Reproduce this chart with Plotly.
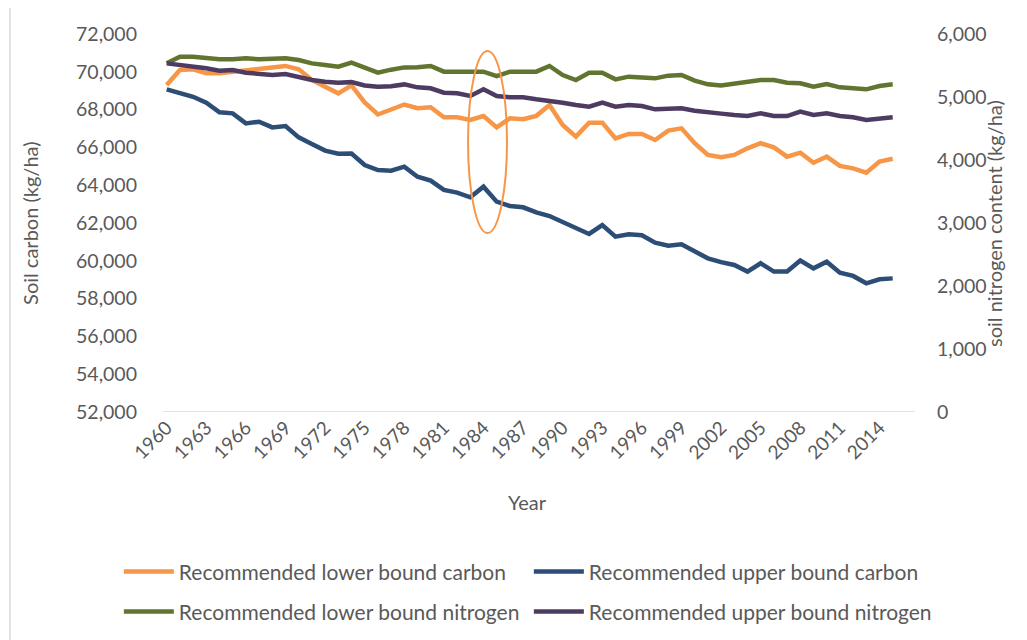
import plotly.graph_objects as go

years = list(range(1960, 2016))

lower_carbon = [69300, 70100, 70130, 69920, 69920, 70010, 70100, 70130, 70240, 70310,
                70130, 69570, 69210, 68860, 69280, 68380, 67740, 67980, 68270, 68070,
                68120, 67590, 67590, 67450, 67660, 67060, 67540, 67490, 67670, 68240,
                67190, 66570, 67310, 67310, 66480, 66710, 66710, 66390, 66890, 67010,
                66220, 65600, 65480, 65600, 65950, 66220, 66000, 65510, 65720, 65190,
                65510, 65020, 64890, 64660, 65250, 65400]

upper_carbon = [69070, 68900, 68680, 68370, 67860, 67800, 67270, 67360, 67060, 67130,
                66530, 66180, 65830, 65670, 65680, 65070, 64800, 64770, 64980, 64450,
                64240, 63750, 63610, 63360, 63920, 63130, 62900, 62830, 62560, 62370,
                62070, 61720, 61420, 61890, 61280, 61400, 61350, 60960, 60800, 60870,
                60480, 60130, 59930, 59780, 59430, 59870, 59430, 59430, 60010, 59600,
                59950, 59370, 59200, 58810, 59020, 59070]

lower_nitrogen = [5534, 5640, 5640, 5614, 5598, 5598, 5614, 5598, 5614, 5614,
                  5587, 5534, 5508, 5481, 5545, 5470, 5386, 5434, 5470, 5471,
                  5492, 5402, 5402, 5402, 5402, 5333, 5402, 5402, 5402, 5492,
                  5349, 5270, 5386, 5386, 5280, 5323, 5312, 5296, 5339, 5349,
                  5259, 5201, 5183, 5217, 5243, 5270, 5270, 5228, 5217, 5164,
                  5206, 5153, 5138, 5122, 5175, 5201]

upper_nitrogen = [5534, 5508, 5492, 5455, 5418, 5429, 5386, 5376, 5349, 5365,
                  5312, 5270, 5243, 5228, 5236, 5183, 5164, 5170, 5200, 5153,
                  5138, 5069, 5058, 5016, 5122, 5016, 4995, 4995, 4963, 4942,
                  4910, 4873, 4847, 4910, 4847, 4873, 4857, 4804, 4804, 4820,
                  4783, 4751, 4736, 4714, 4698, 4741, 4698, 4698, 4767, 4714,
                  4741, 4698, 4677, 4635, 4661, 4677]

tick_years = list(range(1960, 2015, 3))
left_ticks = list(range(52000, 72001, 2000))
right_ticks = list(range(0, 6001, 1000))

names = ["Recommended lower bound carbon", "Recommended upper bound carbon",
         "Recommended lower bound nitrogen", "Recommended upper bound nitrogen"]
colors = ["#F79646", "#2C4D75", "#5F7530", "#4D3B62"]

FONT = "Lato"
GREY = "#595959"

fig = go.Figure()
fig.add_trace(go.Scatter(x=years, y=lower_carbon, name=names[0], mode="lines",
                         line=dict(color=colors[0], width=4.5), yaxis="y", legend="legend"))
fig.add_trace(go.Scatter(x=years, y=upper_carbon, name=names[1], mode="lines",
                         line=dict(color=colors[1], width=4.5), yaxis="y", legend="legend"))
fig.add_trace(go.Scatter(x=years, y=lower_nitrogen, name=names[2], mode="lines",
                         line=dict(color=colors[2], width=4.5), yaxis="y2", legend="legend2"))
fig.add_trace(go.Scatter(x=years, y=upper_nitrogen, name=names[3], mode="lines",
                         line=dict(color=colors[3], width=4.5), yaxis="y2", legend="legend2"))

# highlight ellipse around 1984
fig.add_shape(type="circle", xref="x", yref="y",
              x0=1984 - 1.17, x1=1984 + 1.78, y0=61470, y1=71100,
              line=dict(color="#F79646", width=2))

# chart border (left side)
fig.add_shape(type="line", xref="paper", yref="paper",
              x0=-0.2035, x1=-0.2035, y0=-0.62, y1=1.1,
              line=dict(color="#D9D9D9", width=1.5))

legend_common = dict(orientation="h", x=-0.0587, xanchor="left", yanchor="middle",
                     font=dict(size=21, color=GREY, family=FONT),
                     entrywidth=345, entrywidthmode="pixels",
                     itemwidth=50, traceorder="normal", bgcolor="rgba(0,0,0,0)")

# page body has an 8px margin, so the figure is drawn 8px smaller and offset
fig.update_layout(
    width=1019, height=632,
    margin=dict(l=155, r=112, t=26, b=228, autoexpand=False),
    paper_bgcolor="white", plot_bgcolor="white",
    font=dict(family=FONT, color=GREY, size=17),
    showlegend=True,
    legend=dict(y=-0.423, **legend_common),
    legend2=dict(y=-0.529, **legend_common),
    xaxis=dict(range=[1959.72, 2016.69], tickmode="array", tickvals=tick_years,
               ticktext=[str(t) for t in tick_years], tickangle=-45,
               showgrid=False, zeroline=False, showline=False,
               ticks="", tickfont=dict(size=19, color=GREY)),
    yaxis=dict(range=[52000, 72000], tickvals=left_ticks, tickformat=",",
               showgrid=False, zeroline=False, showline=False,
               ticks="", ticklabelstandoff=25, tickfont=dict(size=19.5, color=GREY)),
    yaxis2=dict(range=[0, 6000], tickvals=right_ticks, tickformat=",",
                overlaying="y", side="right",
                showgrid=False, zeroline=False, showline=False,
                ticks="", ticklabelstandoff=21, tickfont=dict(size=19.5, color=GREY)),
)

# bottom axis line at 52,000
fig.add_shape(type="line", xref="paper", yref="y", x0=0, x1=1, y0=52000, y1=52000,
              line=dict(color="#D9D9D9", width=1.5), layer="below")

fig.add_annotation(text="Soil carbon (kg/ha)", xref="paper", yref="paper",
                   x=-0.177, y=0.5, xanchor="center", yanchor="middle",
                   textangle=-90, showarrow=False,
                   font=dict(size=20, color=GREY, family=FONT))
fig.add_annotation(text="soil nitrogen content (kg/ha)", xref="paper", yref="paper",
                   x=1.105, y=0.5, xanchor="center", yanchor="middle",
                   textangle=-90, showarrow=False,
                   font=dict(size=20, color=GREY, family=FONT))
fig.add_annotation(text="Year", xref="paper", yref="paper",
                   x=0.485, y=-0.238, xanchor="center", yanchor="middle",
                   showarrow=False,
                   font=dict(size=20, color=GREY, family=FONT))

fig.write_html("out.html")
